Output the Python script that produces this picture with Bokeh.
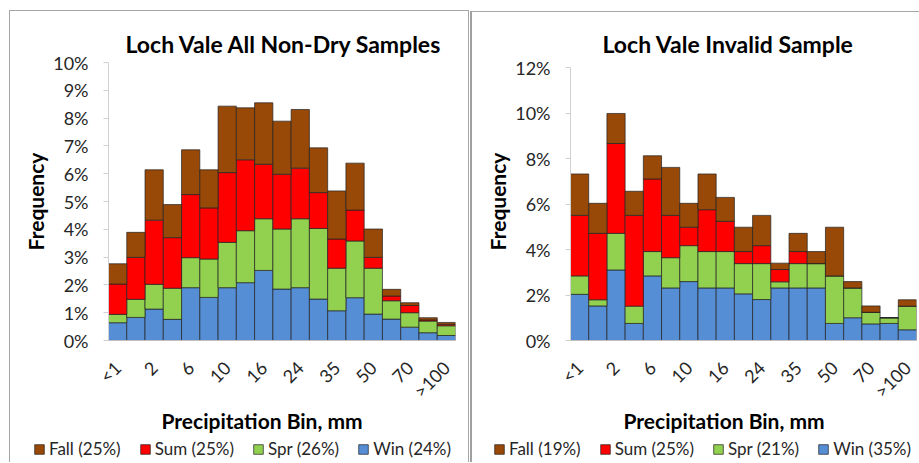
from bokeh.plotting import figure
from bokeh.models import (ColumnDataSource, Range1d, SingleIntervalTicker, FixedTicker,
                          NumeralTickFormatter, Legend, LegendItem, Title)
from bokeh.layouts import row, column
from bokeh.embed import file_html
from bokeh.resources import INLINE

# ---------------- data ----------------
bins = ["<1", "1", "2", "4", "6", "8", "10", "13", "16", "20",
        "24", "30", "35", "42", "50", "60", "70", "85", ">100"]
seasons = ["Win", "Spr", "Sum", "Fall"]

# Loch Vale All Non-Dry Samples (frequency, %)
left_win = [0.64, 0.83, 1.13, 0.76, 1.90, 1.55, 1.90, 2.08, 2.52, 1.85,
            1.90, 1.49, 1.07, 1.54, 0.95, 0.77, 0.48, 0.28, 0.18]
left_spr = [0.30, 0.65, 0.89, 1.12, 1.08, 1.38, 1.63, 1.87, 1.86, 2.16,
            2.48, 2.54, 1.53, 2.04, 1.65, 0.66, 0.52, 0.42, 0.35]
left_sum = [1.09, 1.51, 2.31, 1.82, 2.27, 1.84, 2.51, 2.55, 1.96, 1.97,
            1.82, 1.29, 1.05, 1.11, 0.39, 0.17, 0.26, 0.04, 0.05]
left_fall = [0.73, 0.90, 1.81, 1.19, 1.61, 1.37, 2.39, 1.87, 2.21, 1.91,
             2.11, 1.61, 1.73, 1.69, 1.02, 0.24, 0.10, 0.08, 0.07]
left_legend = ["Fall (25%)", "Sum (25%)", "Spr (26%)", "Win (24%)"]

# Loch Vale Invalid Sample (frequency, %)
right_win = [2.03, 1.52, 3.10, 0.75, 2.84, 2.31, 2.59, 2.31, 2.31, 2.05,
             1.80, 2.31, 2.31, 2.31, 0.75, 1.00, 0.73, 0.75, 0.47]
right_spr = [0.81, 0.27, 1.61, 0.76, 1.07, 1.33, 1.58, 1.60, 1.60, 1.33,
             1.58, 0.27, 1.07, 1.07, 2.09, 1.31, 0.51, 0.25, 1.04]
right_sum = [2.66, 2.92, 3.95, 3.99, 3.19, 1.86, 0.81, 1.84, 1.33, 0.53,
             0.79, 0.54, 0.53, 0.00, 0.00, 0.00, 0.00, 0.00, 0.00]
right_fall = [1.82, 1.32, 1.32, 1.06, 1.02, 2.11, 1.05, 1.57, 1.05, 1.07,
              1.33, 0.28, 0.80, 0.53, 2.14, 0.28, 0.28, 0.00, 0.28]
right_legend = ["Fall (19%)", "Sum (25%)", "Spr (21%)", "Win (35%)"]

colors = {"Win": "#558ED5", "Spr": "#92D050", "Sum": "#FF0000", "Fall": "#984807"}
FONT = "Lato"
OUTLINE = dict(line_color="#222222", line_alpha=0.7, line_width=1)


def panel(title, series, ymax, yend, step, legend_labels, width, chart_h, legend_h,
          margin, styles, min_left, min_right, min_top, title_offset, xlabel_offset,
          legend_x):
    pos = list(range(1, len(bins) + 1))
    data = {"x": pos}
    for s, vals in zip(seasons, series):
        data[s] = [v / 100.0 for v in vals]
    src = ColumnDataSource(data)
    fills = [colors[s] for s in seasons]

    p = figure(x_range=Range1d(0.5, len(bins) + 0.5), y_range=Range1d(0, yend),
               width=width, height=chart_h,
               output_backend="svg", toolbar_location=None,
               min_border_left=min_left, min_border_right=min_right,
               min_border_top=min_top, min_border_bottom=97,
               background_fill_color="white", border_fill_color="white")
    p.outline_line_color = None
    p.xgrid.grid_line_color = None
    p.ygrid.grid_line_color = None

    p.vbar_stack(seasons, x="x", width=1.0, source=src, fill_color=fills, **OUTLINE)

    p.title.text = title
    p.title.align = "left"
    p.title.text_font = FONT
    p.title.text_font_size = "23px"
    p.title.text_font_style = "bold"
    p.title.text_color = "#000000"
    p.title.offset = title_offset
    p.title.standoff = 10

    ya = p.yaxis[0]
    ya.ticker = SingleIntervalTicker(interval=step)
    ya.formatter = NumeralTickFormatter(format="0%")
    ya.bounds = (0, ymax)
    ya.axis_line_color = "#d0d0d0"
    ya.major_tick_line_color = "#d0d0d0"
    ya.major_tick_out = 5
    ya.major_tick_in = 0
    ya.minor_tick_line_color = None
    ya.major_label_text_font = FONT
    ya.major_label_text_font_size = "18px"
    ya.major_label_text_color = "#262626"
    ya.major_label_standoff = 15
    ya.axis_label = "Frequency"
    ya.axis_label_text_font = FONT
    ya.axis_label_text_font_size = "21px"
    ya.axis_label_text_font_style = "bold"
    ya.axis_label_text_color = "#000000"
    ya.axis_label_standoff = 2

    xa = p.xaxis[0]
    xa.ticker = FixedTicker(ticks=pos[::2], minor_ticks=[])
    xa.major_label_overrides = {pos[i]: bins[i] for i in range(0, len(bins), 2)}
    xa.axis_line_color = "#bfbfbf"
    xa.major_tick_line_color = None
    xa.minor_tick_line_color = None
    xa.major_label_orientation = 0.785
    xa.major_label_text_font = FONT
    xa.major_label_text_font_size = "18px"
    xa.major_label_text_color = "#262626"
    xa.major_label_standoff = 18

    xl = Title(text="Precipitation Bin, mm", align="left", offset=xlabel_offset,
               text_font=FONT, text_font_size="21px", text_font_style="bold",
               text_color="#000000", standoff=-13)
    p.add_layout(xl, "below")

    # legend strip: same stacked bars, kept out of its visible y-range
    lg = figure(x_range=Range1d(0.5, len(bins) + 0.5), y_range=Range1d(10, 11),
                width=width, height=legend_h, output_backend="svg",
                toolbar_location=None, x_axis_location=None, y_axis_location=None,
                min_border=0, background_fill_color="white", border_fill_color="white")
    lg.frame_align = False
    lg.outline_line_color = None
    lg.xgrid.grid_line_color = None
    lg.ygrid.grid_line_color = None
    rs = lg.vbar_stack(seasons, x="x", width=1.0, source=src, fill_color=fills, **OUTLINE)
    items = [LegendItem(label=lab, renderers=[r])
             for lab, r in zip(legend_labels, list(reversed(rs)))]
    leg = Legend(items=items, orientation="horizontal", location=(legend_x, 3),
                 border_line_color=None, background_fill_alpha=0,
                 padding=0, margin=0, spacing=18, glyph_width=12, glyph_height=12,
                 label_height=16, label_standoff=4, label_text_font=FONT,
                 label_text_font_size="17px", label_text_color="#262626")
    lg.add_layout(leg, "center")

    return column(p, lg, spacing=0, margin=margin, styles=styles)


left = panel("Loch Vale All Non-Dry Samples",
             [left_win, left_spr, left_sum, left_fall], 0.10, 0.10, 0.01, left_legend,
             458, 426, 25, (10, 0, 0, 9),
             {"border-left": "1px solid #a6a6a6", "border-top": "1px solid #a6a6a6",
              "border-right": "1px solid #a6a6a6"},
             98, 13, 51, 17, 53, 23)
right = panel("Loch Vale Invalid Sample",
              [right_win, right_spr, right_sum, right_fall], 0.12, 0.1222, 0.02,
              right_legend, 447, 425, 25, (11, 0, 0, 1),
              {"border-left": "2px solid #a0a0a0", "border-top": "1px solid #a6a6a6"},
              98, 3, 50, 32, 53, 21)

layout = row(left, right, spacing=0)
open("out.html", "w").write(file_html(layout, INLINE))
